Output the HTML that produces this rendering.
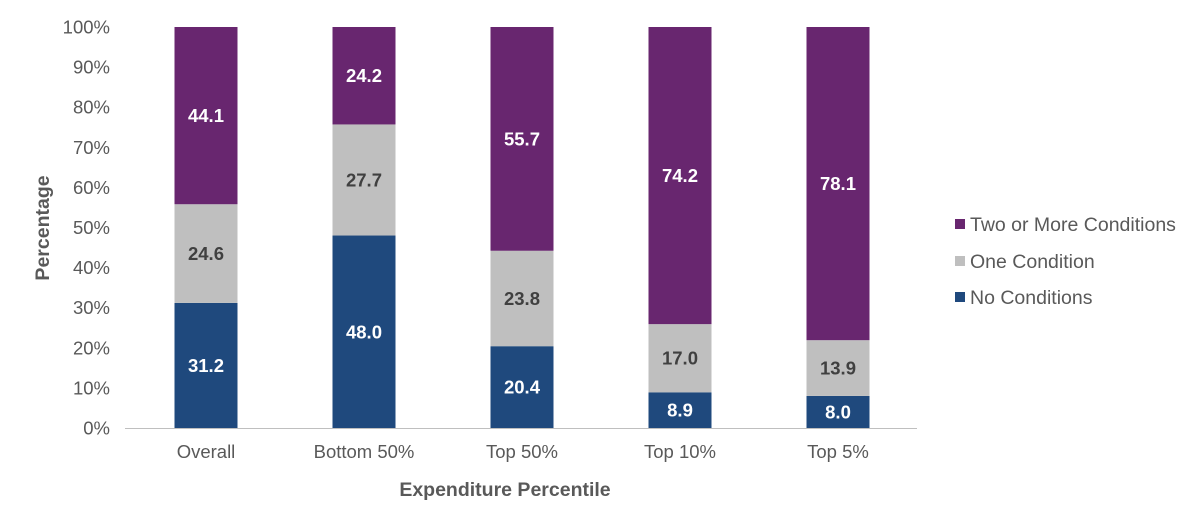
<!DOCTYPE html>
<html><head><meta charset="utf-8"><style>
body{margin:0;background:#fff;}
svg{display:block;font-family:"Liberation Sans",Arial,sans-serif;}
</style></head><body>
<svg id="chart" width="1200" height="523"></svg>
<script>
const categories=["Overall","Bottom 50%","Top 50%","Top 10%","Top 5%"];
const noConditions=[31.2,48.0,20.4,8.9,8.0];
const oneCondition=[24.6,27.7,23.8,17.0,13.9];
const twoOrMore=[44.1,24.2,55.7,74.2,78.1];
const yTicks=[0,10,20,30,40,50,60,70,80,90,100];
const seriesNames=["No Conditions","One Condition","Two or More Conditions"];

const NS="http://www.w3.org/2000/svg";
const svg=document.getElementById('chart');
const x0=127,x1=917,y0=428,y1=27,bw=63;
const band=(x1-x0)/categories.length;
const xc=i=>x0+band*(i+0.5);
const ys=v=>y0-(y0-y1)*v/100;
function mk(t,a,txt){const e=document.createElementNS(NS,t);for(const k in a)e.setAttribute(k,a[k]);if(txt!=null)e.textContent=txt;svg.appendChild(e);return e;}

yTicks.forEach(t=>{
  const e=mk('text',{x:110,y:ys(t)+6.5,'text-anchor':'end','font-size':18.5,fill:'#595959'},t+'%');
  
  
});
const ax=mk('line',{x1:x0-2,x2:x1,y1:y0+0.5,y2:y0+0.5,stroke:'#bfbfbf','stroke-width':1});



const colors=['#1f497d','#bfbfbf','#68266f'];
const textCol=['#fff','#404040','#fff'];
const series=[noConditions,oneCondition,twoOrMore];
categories.forEach((c,i)=>{
  let base=0;
  series.forEach((s,k)=>{
    const v=s[i];
    const top=(k===2)?100:base+v;
    const r=mk('rect',{x:xc(i)-bw/2,y:ys(top),width:bw,height:ys(base)-ys(top),fill:colors[k]});
    
    
    const t=mk('text',{x:xc(i),y:(ys(base)+ys(top))/2+6.5,'text-anchor':'middle','font-size':18.5,'font-weight':'bold',fill:textCol[k]},v.toFixed(1));
    
    
    base=top;
  });
  const l=mk('text',{x:xc(i),y:458,'text-anchor':'middle','font-size':18.5,fill:'#595959'},c);
  
  
});
const xt=mk('text',{x:505,y:496,'text-anchor':'middle','font-size':19.5,'font-weight':'bold',fill:'#595959'},'Expenditure Percentile');


const yt=mk('text',{x:0,y:0,transform:'translate(49,228) rotate(-90)','text-anchor':'middle','font-size':19.5,'font-weight':'bold',fill:'#595959'},'Percentage');



const legY=[297,261,224];
seriesNames.forEach((n,k)=>{
  const r=mk('rect',{x:955,y:legY[k]-5,width:10,height:10,fill:colors[k]});
  
  
  const t=mk('text',{x:970,y:legY[k]+7,'font-size':19.5,fill:'#595959'},n);
  
  
});
</script>
</body></html>
